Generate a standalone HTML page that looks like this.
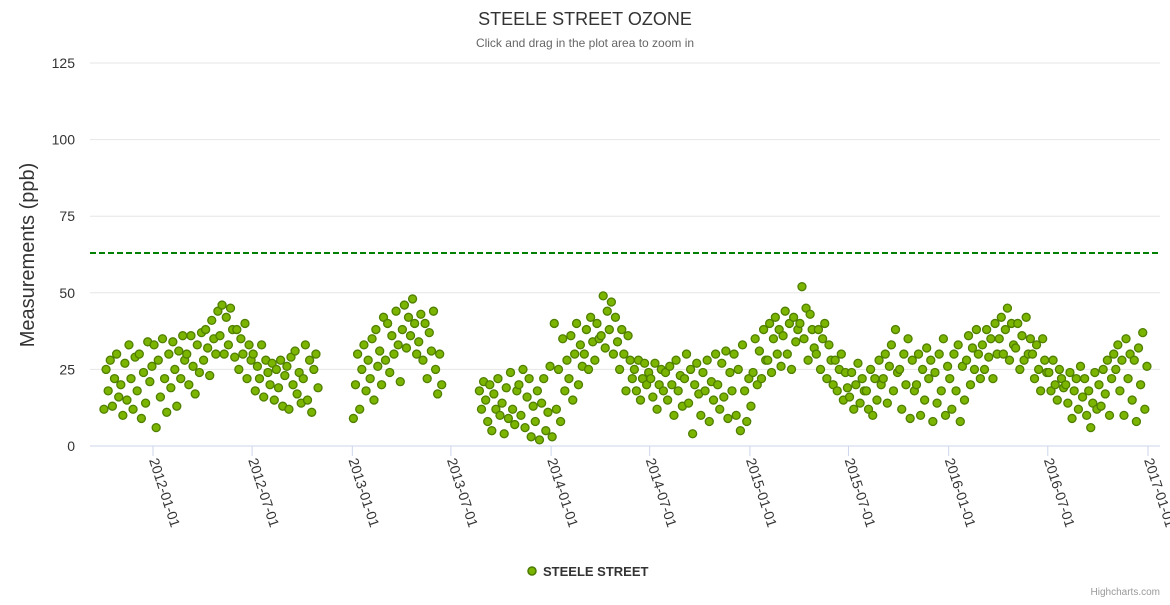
<!DOCTYPE html>
<html><head><meta charset="utf-8">
<style>
html,body{margin:0;padding:0;background:#fff;}
svg text{font-family:"Liberation Sans","DejaVu Sans",sans-serif;}
</style></head>
<body>
<svg id="chart" width="1170" height="600" xmlns="http://www.w3.org/2000/svg">
<rect width="1170" height="600" fill="#fff"/>
<text x="585" y="25" text-anchor="middle" font-size="18" fill="#333">STEELE STREET OZONE</text>
<text x="585" y="47" text-anchor="middle" font-size="12" fill="#666">Click and drag in the plot area to zoom in</text>
<text transform="translate(34,255) rotate(-90)" text-anchor="middle" font-size="20" fill="#333">Measurements (ppb)</text>
<g id="grid"></g><g id="ylabels"></g><g id="xaxis"></g>
<g id="points"></g>
<g>
<circle cx="532" cy="571" r="4" fill="#7cb500" stroke="#4a7a00" stroke-width="1.5"/>
<text x="543" y="576" font-size="13" font-weight="bold" fill="#333">STEELE STREET</text>
</g>
<text x="1160" y="595" text-anchor="end" font-size="10" fill="#999">Highcharts.com</text>
</svg>
<script>
const yTicks = [0,25,50,75,100,125];
const xTickLabels = ["2012-01-01","2012-07-01","2013-01-01","2013-07-01","2014-01-01","2014-07-01","2015-01-01","2015-07-01","2016-01-01","2016-07-01","2017-01-01"];
const thresholdValue = 63;
const months = ["2011-10","2011-11","2011-12","2012-01","2012-02","2012-03","2012-04","2012-05","2012-06","2012-07","2012-08","2012-09","2012-10",
"2013-01","2013-02","2013-03","2013-04","2013-05","2013-06","2013-08","2013-09","2013-10","2013-11","2013-12",
"2014-01","2014-02","2014-03","2014-04","2014-05","2014-06","2014-07","2014-08","2014-09","2014-10","2014-11","2014-12",
"2015-01","2015-02","2015-03","2015-04","2015-05","2015-06","2015-07","2015-08","2015-09","2015-10","2015-11","2015-12",
"2016-01","2016-02","2016-03","2016-04","2016-05","2016-06","2016-07","2016-08","2016-09","2016-10","2016-11","2016-12"];
const values = [
[12,25,18,28,13,22,30,16],[20,10,27,15,33,22,12,29],[18,30,9,24,14,34,21,26],[33,6,28,16,35,22,11,30],
[19,34,25,13,31,22,36,28],[30,20,36,26,17,33,24,37],[28,38,32,23,41,35,30,44],[36,46,30,42,33,45,38,29],
[38,25,35,30,40,22,33,28],[30,18,26,22,33,16,28,24],[20,27,15,25,19,28,13,23],[26,12,29,20,31,17,24,14],
[22,33,15,28,11,25,30,19],
[9,20,30,12,25,33,18,28],[22,35,15,38,26,31,20,42],[28,40,24,36,30,44,33,21],[38,46,32,42,36,48,40,30],
[34,43,28,40,22,37,31,44],[25,17,30,20,null,null,null,null],[null,null,null,null,null,18,12,21],
[15,8,20,5,17,12,22,10],[14,4,19,9,24,12,7,18],[20,10,25,6,16,22,3,13],[8,18,2,14,22,5,11,26],
[3,40,12,25,8,35,18,28],[22,36,15,30,40,20,33,26],[30,38,25,42,34,28,40,35],[36,49,32,44,38,47,30,42],
[34,25,38,30,18,36,28,22],[25,18,28,15,22,27,20,24],[22,16,27,12,20,25,18,24],[15,26,20,10,28,18,23,13],
[22,30,14,25,4,20,27,17],[10,24,18,28,8,21,15,30],[20,12,27,16,31,9,24,18],[30,10,25,5,33,18,8,22],
[13,24,35,20,31,22,38,28],[28,40,24,35,42,30,38,26],[36,44,30,40,25,42,34,38],[40,52,35,45,28,43,38,32],
[30,38,25,35,40,22,33,28],[20,28,18,25,30,15,24,19],[16,24,12,20,27,14,22,18],[18,12,25,10,22,15,28,20],
[22,30,14,26,33,18,38,24],[25,12,30,20,35,9,28,18],[20,30,10,25,15,32,22,28],[8,24,14,30,18,35,10,26],
[22,12,30,18,33,8,26,15],[28,36,20,32,25,38,30,22],[33,25,38,29,35,22,40,30],[35,42,30,38,45,28,40,33],
[32,40,25,36,28,42,30,35],[30,22,33,25,18,35,28,24],[24,18,28,20,15,25,22,19],[20,14,24,9,18,22,12,26],
[16,22,10,18,6,14,24,12],[20,13,25,17,28,10,22,30],[25,33,18,28,10,35,22,30],[15,28,8,32,20,37,12,26]];

const NS="http://www.w3.org/2000/svg";
const t0=Date.UTC(2012,0,1), t1=Date.UTC(2017,0,1);
function xScale(ms){return 153+(ms-t0)/(t1-t0)*995;}
function yScale(v){return 446-v*383/125;}
function mk(tag,attrs,parent){const e=document.createElementNS(NS,tag);for(const k in attrs)e.setAttribute(k,attrs[k]);parent.appendChild(e);return e;}
const grid=document.getElementById('grid'), yl=document.getElementById('ylabels'), xa=document.getElementById('xaxis'), pts=document.getElementById('points');
yTicks.forEach(v=>{
  const l=mk('line',{x1:90,x2:1160,y1:yScale(v),y2:yScale(v),stroke:v===0?'#ccd6eb':'#e6e6e6','stroke-width':1},grid);
  
  
  const t=mk('text',{x:75,y:yScale(v)+5,'text-anchor':'end','font-size':14,fill:'#333'},yl);
  t.textContent=v;
  
  
});
const th=mk('line',{x1:90,x2:1160,y1:yScale(thresholdValue),y2:yScale(thresholdValue),stroke:'#008000','stroke-width':2,'stroke-dasharray':'6,3'},grid);


xTickLabels.forEach(s=>{
  const p=s.split('-').map(Number);const x=xScale(Date.UTC(p[0],p[1]-1,p[2]));
  const tk=mk('line',{x1:x,x2:x,y1:446,y2:456,stroke:'#ccd6eb'},xa);
  
  
  const t=mk('text',{transform:`translate(${x-4},460) rotate(72)`,'font-size':14,fill:'#333'},xa);
  t.textContent=s;
  
  
});
months.forEach((m,i)=>{
  const p=m.split('-').map(Number);
  const ms0=Date.UTC(p[0],p[1]-1,1), ms1=Date.UTC(p[0],p[1],1);
  const arr=values[i];
  arr.forEach((v,j)=>{
    if(v===null)return;
    const ms=ms0+(j+0.5)/arr.length*(ms1-ms0);
    const c=mk('circle',{cx:xScale(ms),cy:yScale(v),r:4,fill:'#7cb500',stroke:'#4f7f00','stroke-width':1.3},pts);
    
    
  });
});
</script>
</body></html>
